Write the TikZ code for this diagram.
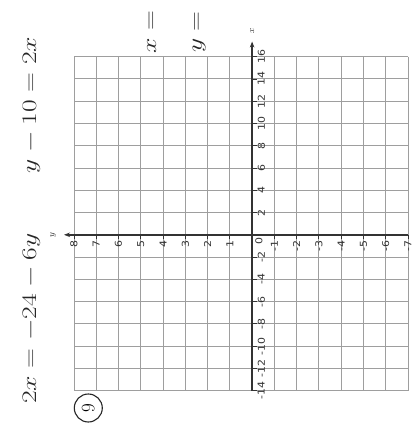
\documentclass[tikz,border=0pt]{standalone}
\usepackage{fontspec}
\newfontfamily\ticksf{DejaVu Sans}
\usetikzlibrary{arrows.meta}
\begin{document}
\begin{tikzpicture}[x=1pt,y=-1pt,
  gridline/.style={draw=black!38, line width=1pt},
  axisline/.style={draw=black!80, line width=1.6pt, -{Stealth[length=6pt,width=4.5pt]}},
  tickline/.style={draw=black!80, line width=0.9pt},
  ticklab/.style={font=\ticksf\fontsize{9.5}{10}\selectfont, rotate=90, xscale=1.15, inner sep=0pt, text=black!80},
  eqlab/.style={font=\fontsize{20}{22}\selectfont, rotate=90, xscale=1.33, inner sep=0pt, anchor=base, text=black!85},
  axlab/.style={font=\fontsize{9}{9}\selectfont, rotate=90, inner sep=0pt, text=black!85},
]
\useasboundingbox (0,0) rectangle (416,428);
\fill[white] (0,0) rectangle (416,428);
\def\cell{22.267}
% grid
\foreach \i in {0,...,15} {
  \draw[gridline] ({74+\i*\cell},56.7) -- ({74+\i*\cell},390.7);
  \draw[gridline] (74,{56.7+\i*\cell}) -- (408,{56.7+\i*\cell});
}
% axes
\coordinate (O) at (252.1,234.8);
\coordinate (xbot) at (252.1,390.7);
\coordinate (xtop) at (252.1,41.5);
\coordinate (yright) at (408,234.8);
\coordinate (yleft) at (64,234.8);
\draw[axisline] (xbot) -- (xtop);
\draw[axisline] (yright) -- (yleft);
\node[axlab] (xlab) at (252.1,31) {$x$};
\node[axlab] (ylab) at (53,234.8) {$y$};
% ticks on the vertical (x) axis
\foreach \j in {0,...,15} {
  \ifnum\j=8\relax\else
    \pgfmathtruncatemacro{\val}{16-2*\j}
    \coordinate (xt\j) at (252.1,{56.7+\j*\cell});
    \draw[tickline] (xt\j) -- ++(4.5,0);
    \node[ticklab, anchor=north] (xl\j) at ([xshift=5.5pt]xt\j) {\val};
  \fi
}
% ticks on the horizontal (y) axis
\foreach \i in {0,...,15} {
  \ifnum\i=8\relax\else
    \pgfmathtruncatemacro{\val}{8-\i}
    \coordinate (yt\i) at ({74+\i*\cell},234.8);
    \draw[tickline] (yt\i) -- ++(0,4.5);
    \node[ticklab, anchor=east] (yl\i) at ([yshift=-5.5pt]yt\i) {\val};
  \fi
}
\node[ticklab] (zero) at (259,241) {0};
% equations
\node[eqlab] (eqA) at (36,105) {$y-10=2x$};
\node[eqlab] (eqB) at (36,318.5) {$2x=-24-6y$};
\node[eqlab] (eqX) at (156,32) {$x=$};
\node[eqlab] (eqY) at (201.5,32) {$y=$};
% problem number
\node[draw=black!85, circle, rotate=90, minimum size=28pt, line width=1.1pt, inner sep=0pt, font=\fontsize{19}{20}\selectfont] (nine) at (88.3,408) {9};
\end{tikzpicture}
\end{document}
